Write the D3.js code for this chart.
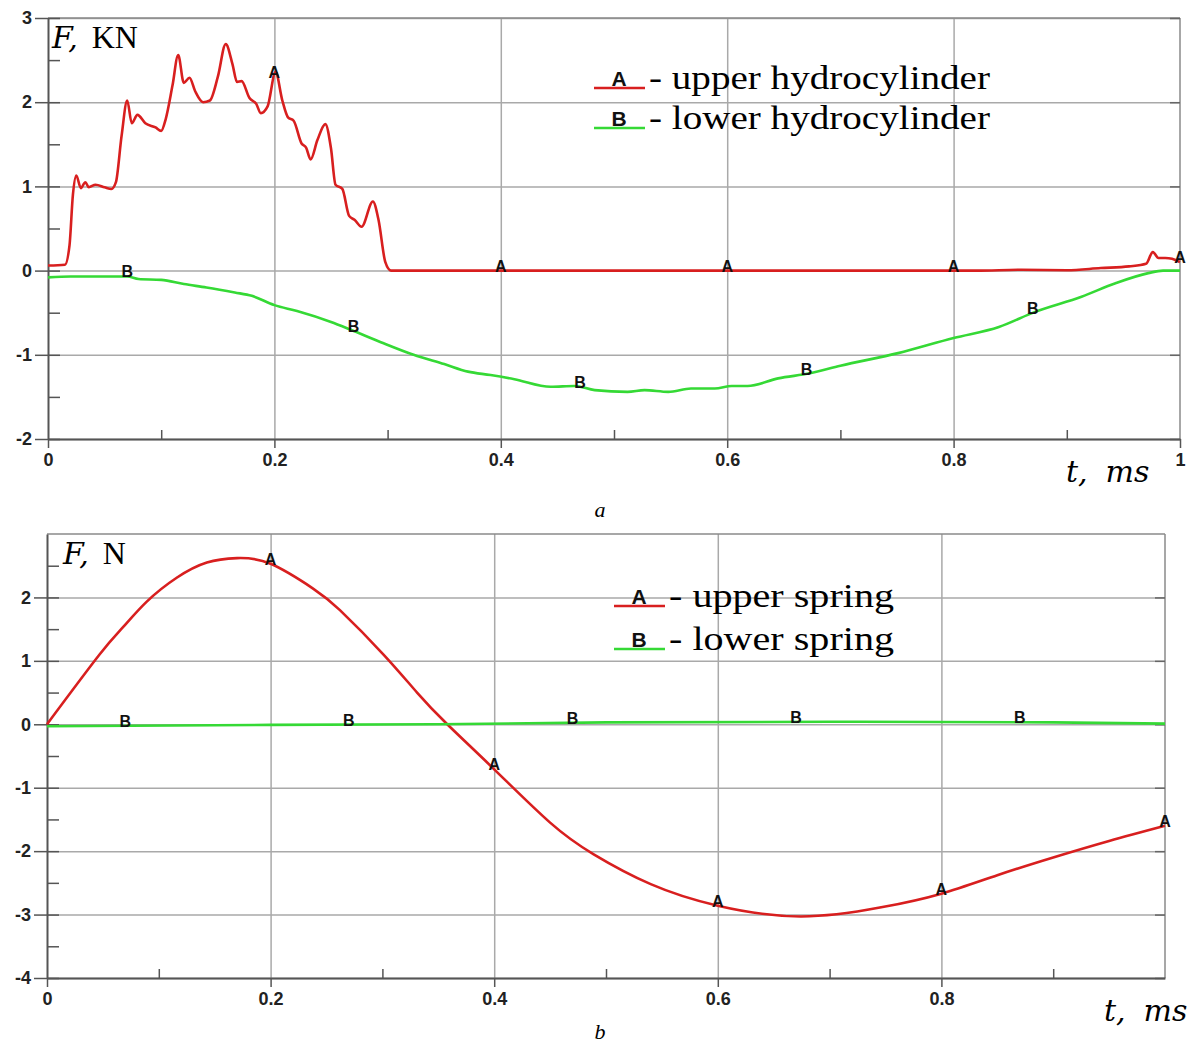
<!DOCTYPE html>
<html>
<head>
<meta charset="utf-8">
<script src="https://cdnjs.cloudflare.com/ajax/libs/d3/7.8.5/d3.min.js"></script>
<style>
  body { margin: 0; background: #fff; }
  .tick text { font-family: "Liberation Sans", Arial, sans-serif; font-weight: bold; font-size: 18px; fill: #222; }
</style>
</head>
<body>
<svg id="chart" width="1203" height="1044"></svg>
<script>
// ---- panel a: hydrocylinders, F in KN ----
var upperCylT = [0, 0.015, 0.019, 0.022, 0.025, 0.029, 0.033, 0.036, 0.042, 0.05, 0.056, 0.06, 0.065, 0.07, 0.074, 0.079, 0.086, 0.095, 0.1, 0.104, 0.11, 0.115, 0.12, 0.125, 0.13, 0.137, 0.143, 0.15, 0.157, 0.163, 0.167, 0.171, 0.178, 0.184, 0.188, 0.194, 0.201, 0.207, 0.212, 0.217, 0.224, 0.228, 0.232, 0.238, 0.245, 0.25, 0.254, 0.26, 0.266, 0.271, 0.277, 0.287, 0.292, 0.298, 0.303, 0.4, 0.6, 0.82, 0.86, 0.9, 0.93, 0.955, 0.97, 0.976, 0.981, 0.987, 0.993, 1.0];
var upperCylF = [0.06, 0.07, 0.3, 0.9, 1.13, 0.98, 1.05, 0.99, 1.02, 0.99, 0.97, 1.05, 1.6, 2.02, 1.75, 1.85, 1.75, 1.7, 1.66, 1.8, 2.2, 2.56, 2.23, 2.29, 2.13, 2.0, 2.02, 2.3, 2.69, 2.45, 2.24, 2.25, 2.05, 1.98, 1.87, 1.95, 2.36, 2.02, 1.82, 1.78, 1.51, 1.46, 1.32, 1.55, 1.74, 1.45, 1.02, 0.97, 0.65, 0.6, 0.52, 0.82, 0.6, 0.1, 0, 0, 0, 0, 0.01, 0.005, 0.03, 0.05, 0.08, 0.22, 0.15, 0.15, 0.14, 0.1];

var lowerCylT = [0, 0.02, 0.05, 0.07, 0.08, 0.1, 0.12, 0.14, 0.165, 0.18, 0.2, 0.22, 0.25, 0.267, 0.294, 0.323, 0.35, 0.371, 0.391, 0.412, 0.444, 0.465, 0.483, 0.512, 0.527, 0.548, 0.568, 0.589, 0.604, 0.618, 0.645, 0.673, 0.7, 0.751, 0.8, 0.84, 0.872, 0.913, 0.943, 0.972, 0.985, 1.0];
var lowerCylF = [-0.08, -0.07, -0.07, -0.07, -0.1, -0.11, -0.16, -0.2, -0.26, -0.3, -0.41, -0.48, -0.61, -0.7, -0.85, -1.0, -1.11, -1.2, -1.24, -1.29, -1.38, -1.37, -1.42, -1.44, -1.42, -1.44, -1.4, -1.4, -1.37, -1.37, -1.28, -1.22, -1.13, -0.98, -0.8, -0.67, -0.49, -0.31, -0.15, -0.03, 0, 0];

// ---- panel b: springs, F in N ----
var upperSpringT = [0, 0.047, 0.068, 0.089, 0.116, 0.143, 0.17, 0.2, 0.238, 0.262, 0.301, 0.331, 0.358, 0.4, 0.45, 0.489, 0.54, 0.6, 0.674, 0.745, 0.8, 0.85, 0.9, 0.95, 1.0];
var upperSpringF = [0, 1.1, 1.53, 1.93, 2.31, 2.55, 2.62, 2.53, 2.14, 1.8, 1.1, 0.5, 0, -0.71, -1.55, -2.05, -2.52, -2.86, -3.03, -2.89, -2.67, -2.38, -2.1, -1.84, -1.6];

var lowerSpringT = [0, 0.2, 0.35, 0.5, 0.7, 0.9, 1.0];
var lowerSpringF = [-0.03, -0.01, 0.0, 0.03, 0.04, 0.03, 0.01];

// ticks and labels
var xTicksA = [0, 0.2, 0.4, 0.6, 0.8, 1];
var yTicksA = [3, 2, 1, 0, -1, -2];
var xTicksB = [0, 0.2, 0.4, 0.6, 0.8];
var yTicksB = [2, 1, 0, -1, -2, -3, -4];
var xMinor = [0.1, 0.3, 0.5, 0.7, 0.9];
var markersA = [0.2, 0.4, 0.6, 0.8, 1.0];
var markersB = [0.07, 0.27, 0.47, 0.67, 0.87];

var RED = '#d81f1f', GREEN = '#35d935';
var svg = d3.select('#chart');

function valueAt(ts, fs, t) {
	var i = d3.bisectLeft(ts, t);
	if (i <= 0) return fs[0];
	if (i >= ts.length) return fs[fs.length - 1];
	var k = (t - ts[i - 1]) / (ts[i] - ts[i - 1]);
	return fs[i - 1] + k * (fs[i] - fs[i - 1]);
}

function styleLines(color, width) {
	return function(s) {
		s.select('.domain').remove();
		s.selectAll('line').attr('stroke', color).attr('stroke-width', width);
	};
}

function drawPanel(p) {
	var x = d3.scaleLinear().domain([0, 1]).range([p.left, p.right]);
	var y = d3.scaleLinear().domain(p.yDomain).range([p.bottom, p.top]);
	var g = svg.append('g');
	var w = p.right - p.left;

	// gridlines
	g.append('g')
	 .attr('transform', 'translate(' + p.left + ',0)')
	 .call(d3.axisLeft(y).tickValues(p.yTicks).tickSize(-w).tickFormat(''))
	 .call(styleLines('#a9a9a9', 1.5));
	g.append('g')
	 .attr('transform', 'translate(0,' + p.bottom + ')')
	 .call(d3.axisBottom(x).tickValues([0.2, 0.4, 0.6, 0.8]).tickSize(-(p.bottom - p.top)).tickFormat(''))
	 .call(styleLines('#a9a9a9', 1.5));

	// top and right border
	g.append('line').attr('x1', p.left).attr('x2', p.right).attr('y1', p.top).attr('y2', p.top)
	 .attr('stroke', '#8a8a8a').attr('stroke-width', 1.5);
	g.append('line').attr('x1', p.right).attr('x2', p.right).attr('y1', p.top).attr('y2', p.bottom)
	 .attr('stroke', '#8a8a8a').attr('stroke-width', 1.5);
	g.append('g')
	 .attr('transform', 'translate(' + p.right + ',0)')
	 .call(d3.axisRight(y).tickValues(p.yTicks).tickSize(-10).tickFormat(''))
	 .call(styleLines('#666', 1.5));

	// minor ticks
	var yMinor = d3.range(p.yDomain[0] + 0.5, p.yDomain[1], 1);
	g.append('g')
	 .attr('transform', 'translate(' + p.left + ',0)')
	 .call(d3.axisLeft(y).tickValues(yMinor.concat(p.yTicks)).tickSize(-12).tickFormat(''))
	 .call(styleLines('#555', 1.5));
	g.append('g')
	 .attr('transform', 'translate(0,' + p.bottom + ')')
	 .call(d3.axisBottom(x).tickValues(xMinor).tickSize(-9).tickFormat(''))
	 .call(styleLines('#555', 1.5));

	// main axes
	g.append('g')
	 .attr('transform', 'translate(' + p.left + ',0)')
	 .call(d3.axisLeft(y).tickValues(p.yTicks).tickSizeInner(13).tickSizeOuter(0).tickPadding(3).tickFormat(function(d){ return String(d); }))
	 .call(function(s){ s.select('.domain').attr('stroke', '#555').attr('stroke-width', 2); s.selectAll('line').attr('stroke', '#555').attr('stroke-width', 1.5); });
	g.append('g')
	 .attr('transform', 'translate(0,' + p.bottom + ')')
	 .call(d3.axisBottom(x).tickValues(p.xTicks).tickSizeInner(9).tickSizeOuter(0).tickPadding(5).tickFormat(function(d){ return d === 0 || d === 1 ? String(d) : d.toFixed(1); }))
	 .call(function(s){ s.select('.domain').attr('stroke', '#555').attr('stroke-width', 2); s.selectAll('line').attr('stroke', '#555').attr('stroke-width', 1.5); });

	// curves
	p.series.forEach(function(s) {
		var line = d3.line()
					.x(function(d){ return x(d[0]); })
					.y(function(d){ return y(d[1]); })
					.curve(s.curve);
		g.append('path')
		 .datum(d3.zip(s.t, s.f))
		 .attr('fill', 'none')
		 .attr('stroke', s.color)
		 .attr('stroke-width', 2.6)
		 .attr('stroke-linejoin', 'round')
		 .attr('d', line);
		g.selectAll(null)
		 .data(s.marks)
		 .enter().append('text')
		 .attr('x', function(t){ return x(t); })
		 .attr('y', function(t){ return y(valueAt(s.t, s.f, t)) + 1; })
		 .attr('text-anchor', 'middle')
		 .attr('font-family', '"Liberation Sans", Arial, sans-serif')
		 .attr('font-weight', 'bold')
		 .attr('font-size', 16)
		 .attr('fill', '#111')
		 .text(s.letter);
	});

	// legend
	p.series.forEach(function(s, i) {
		var ly = p.legend.y + i * p.legend.dy;
		g.append('line')
		 .attr('x1', p.legend.x).attr('x2', p.legend.x + 51)
		 .attr('y1', ly).attr('y2', ly)
		 .attr('stroke', s.color).attr('stroke-width', 2.5);
		g.append('text')
		 .attr('x', p.legend.x + 25).attr('y', ly - 2)
		 .attr('text-anchor', 'middle')
		 .attr('font-family', '"Liberation Sans", Arial, sans-serif')
		 .attr('font-weight', 'bold').attr('font-size', 21).attr('fill', '#111')
		 .text(s.letter);
		g.append('text')
		 .attr('x', p.legend.x + 55).attr('y', ly + 1)
		 .attr('font-family', '"Liberation Serif", "Times New Roman", serif')
		 .attr('font-size', 33).attr('fill', '#000')
		 .attr('textLength', p.legend.len).attr('lengthAdjust', 'spacingAndGlyphs')
		 .text('- ' + s.name);
	});

	// axis titles
	var ft = g.append('text').attr('x', p.left + p.fx).attr('y', p.top + 30).attr('fill', '#000');
	ft.append('tspan').attr('font-family', '"DejaVu Serif", serif').attr('font-style', 'italic').attr('font-size', 30).text('F,');
	ft.append('tspan').attr('font-family', '"Liberation Serif", serif').attr('font-size', 32).attr('dx', 14).text(p.unit);
	var tt = g.append('text')
	 .attr('x', p.tx).attr('y', p.bottom + 43)
	 .attr('font-family', '"DejaVu Serif", serif').attr('font-style', 'italic').attr('font-size', 30)
	 .attr('fill', '#000');
	tt.append('tspan').text('t,');
	tt.append('tspan').attr('dx', 18).text('ms');
	g.append('text')
	 .attr('x', 600).attr('y', p.capY)
	 .attr('text-anchor', 'middle')
	 .attr('font-family', '"Liberation Serif", serif').attr('font-style', 'italic').attr('font-size', 22)
	 .text(p.caption);
}

drawPanel({
	left: 48, right: 1180, top: 18, bottom: 439,
	yDomain: [-2, 3], xTicks: xTicksA, yTicks: yTicksA,
	unit: 'KN', fx: 4, tx: 1066, caption: 'a', capY: 517,
	legend: { x: 594, y: 88, dy: 40, len: 341 },
	series: [
		{ t: upperCylT, f: upperCylF, color: RED, letter: 'A', marks: markersA, name: 'upper hydrocylinder', curve: d3.curveMonotoneX },
		{ t: lowerCylT, f: lowerCylF, color: GREEN, letter: 'B', marks: markersB, name: 'lower hydrocylinder', curve: d3.curveMonotoneX }
	]
});

drawPanel({
	left: 47, right: 1165, top: 534, bottom: 978,
	yDomain: [-4, 3], xTicks: xTicksB, yTicks: yTicksB,
	unit: 'N', fx: 16, tx: 1104, caption: 'b', capY: 1039,
	legend: { x: 614, y: 606, dy: 43, len: 225 },
	series: [
		{ t: upperSpringT, f: upperSpringF, color: RED, letter: 'A', marks: markersA, name: 'upper spring', curve: d3.curveNatural },
		{ t: lowerSpringT, f: lowerSpringF, color: GREEN, letter: 'B', marks: markersB, name: 'lower spring', curve: d3.curveNatural }
	]
});
</script>
</body>
</html>
